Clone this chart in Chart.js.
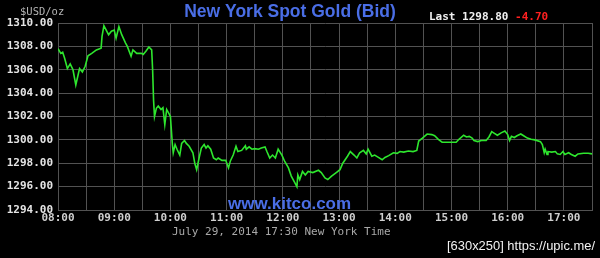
<!DOCTYPE html>
<html>
<head>
<meta charset="utf-8">
<script src="https://cdn.jsdelivr.net/npm/chart.js@4/dist/chart.umd.min.js"></script>
<style>
  html, body { margin: 0; padding: 0; background: #000; }
  #grafica { display: block; }
</style>
</head>
<body>
<canvas id="grafica" width="600" height="258"></canvas>
<script>
// Datos: hora (Nueva York) y precio bid.
const horas = [
  "08:00", "08:03", "08:05", "08:07", "08:10", "08:13", "08:16", "08:19", "08:21", "08:23",
  "08:26", "08:29", "08:32", "08:36", "08:41", "08:46", "08:47", "08:49", "08:52", "08:54",
  "08:57", "09:00", "09:02", "09:05", "09:08", "09:12", "09:14", "09:18", "09:20", "09:24",
  "09:29", "09:31", "09:34", "09:37", "09:40", "09:41", "09:42", "09:43", "09:45", "09:47",
  "09:50", "09:52", "09:54", "09:56", "09:59", "10:00", "10:02", "10:03", "10:05", "10:07",
  "10:10", "10:12", "10:15", "10:17", "10:20", "10:24", "10:26", "10:28", "10:31", "10:33",
  "10:36", "10:38", "10:40", "10:43", "10:46", "10:49", "10:51", "10:55", "10:59", "11:02",
  "11:04", "11:07", "11:10", "11:12", "11:16", "11:20", "11:21", "11:24", "11:27", "11:30",
  "11:34", "11:37", "11:41", "11:43", "11:46", "11:49", "11:52", "11:55", "11:59", "12:02",
  "12:06", "12:09", "12:12", "12:15", "12:16", "12:18", "12:21", "12:24", "12:27", "12:32",
  "12:38", "12:41", "12:45", "12:48", "12:52", "12:57", "13:01", "13:04", "13:09", "13:12",
  "13:16", "13:19", "13:22", "13:26", "13:29", "13:31", "13:35", "13:38", "13:42", "13:46",
  "13:49", "13:53", "13:58", "14:02", "14:05", "14:09", "14:14", "14:19", "14:23", "14:25",
  "14:29", "14:34", "14:39", "14:42", "14:46", "14:50", "14:55", "15:00", "15:05", "15:08",
  "15:13", "15:16", "15:19", "15:22", "15:24", "15:28", "15:32", "15:37", "15:40", "15:43",
  "15:45", "15:49", "15:53", "15:57", "16:00", "16:02", "16:04", "16:07", "16:10", "16:14",
  "16:17", "16:21", "16:25", "16:29", "16:35", "16:37", "16:39", "16:40", "16:42", "16:43",
  "16:47", "16:51", "16:53", "16:56", "16:59", "17:01", "17:05", "17:08", "17:12", "17:15",
  "17:21", "17:26", "17:30"
];

const precios = [
  1307.8, 1307.4, 1307.5, 1307.0, 1306.1, 1306.5, 1306.0, 1304.7, 1305.4, 1306.1,
  1305.8, 1306.3, 1307.2, 1307.4, 1307.7, 1307.85, 1308.85, 1309.77, 1309.3, 1309.0,
  1309.3, 1309.4, 1308.7, 1309.7, 1309.0, 1308.3, 1308.0, 1307.15, 1307.7, 1307.4,
  1307.4, 1307.3, 1307.6, 1307.95, 1307.7, 1306.0, 1303.4, 1302.0, 1302.7, 1302.9,
  1302.6, 1302.75, 1301.3, 1302.6, 1302.15, 1302.0, 1299.7, 1298.9, 1299.6, 1299.2,
  1298.7, 1299.7, 1299.95, 1299.7, 1299.45, 1298.9, 1298.0, 1297.45, 1298.6, 1299.3,
  1299.6, 1299.3, 1299.5, 1299.2, 1298.45, 1298.3, 1298.45, 1298.25, 1298.25, 1297.6,
  1298.2, 1298.7, 1299.45, 1299.0, 1299.1, 1299.5, 1299.2, 1299.4, 1299.2, 1299.25,
  1299.2, 1299.3, 1299.4, 1299.0, 1298.45, 1298.7, 1298.45, 1299.2, 1298.7, 1298.15,
  1297.6, 1296.9, 1296.45, 1296.0, 1297.0, 1296.6, 1297.3, 1297.0, 1297.3, 1297.2,
  1297.4, 1297.2, 1296.75, 1296.6, 1296.9, 1297.2, 1297.45, 1298.0, 1298.6, 1299.0,
  1298.7, 1298.45, 1298.9, 1299.1, 1298.8, 1299.2, 1298.6, 1298.7, 1298.5, 1298.3,
  1298.5, 1298.65, 1298.9, 1298.85, 1299.0, 1298.95, 1299.05, 1299.0, 1299.1, 1299.9,
  1300.15, 1300.5, 1300.45, 1300.35, 1300.05, 1299.8, 1299.8, 1299.8, 1299.8, 1300.05,
  1300.4, 1300.25, 1300.3, 1300.15, 1299.95, 1299.85, 1299.95, 1299.95, 1300.25, 1300.7,
  1300.6, 1300.4, 1300.6, 1300.75, 1300.45, 1299.95, 1300.3, 1300.2, 1300.35, 1300.5,
  1300.35, 1300.15, 1300.05, 1300.0, 1299.85, 1299.6, 1298.9, 1299.2, 1298.75, 1299.0,
  1298.95, 1299.0, 1298.8, 1298.75, 1299.0, 1298.75, 1298.9, 1298.75, 1298.6, 1298.8,
  1298.85, 1298.85, 1298.8
];

const etiquetasHora = ["08:00", "09:00", "10:00", "11:00", "12:00", "13:00", "14:00", "15:00", "16:00", "17:00"];
const sesionInicio = "08:00";
const sesionFin = "17:30";
const precioMin = 1294;
const precioMax = 1310;

const titulo = "New York Spot Gold (Bid)";
const unidad = "$USD/oz";
const ultimo = "Last 1298.80";
const cambio = "-4.70";
const fechaTexto = "July 29, 2014 17:30 New York Time";
const sitio = "www.kitco.com";
const marcaAgua = "[630x250] https://upic.me/";

function minutos(hhmm) {
  const [h, m] = hhmm.split(":").map(Number);
  return h * 60 + m;
}

const base = minutos(sesionInicio);
const puntos = horas.map((h, i) => ({ x: minutos(h) - base, y: precios[i] }));

const MONO = "'DejaVu Sans Mono', monospace";
const SANS = "'Liberation Sans', Arial, sans-serif";
const GRID = "#525252";

const textos = {
  id: "textos",
  beforeDraw(chart) {
    const { ctx } = chart;
    ctx.save();
    ctx.fillStyle = "#000";
    ctx.fillRect(0, 0, chart.width, chart.height);
    ctx.restore();
  },
  afterDraw(chart) {
    const { ctx } = chart;
    ctx.save();
    ctx.textBaseline = "alphabetic";

    ctx.font = `bold 17.5px ${SANS}`;
    ctx.fillStyle = "#4a6ee6";
    ctx.textAlign = "center";
    ctx.fillText(titulo, 290, 17);

    ctx.textAlign = "left";
    ctx.font = `10.5px ${MONO}`;
    ctx.fillStyle = "#b4b4b4";
    ctx.fillText(unidad, 20, 15);

    ctx.font = `bold 11px ${MONO}`;
    ctx.fillStyle = "#f0f0f0";
    ctx.fillText(ultimo, 429, 20);
    const w = ctx.measureText(ultimo + " ").width;
    ctx.fillStyle = "#ff2020";
    ctx.fillText(cambio, 429 + w, 20);

    ctx.font = `11px ${MONO}`;
    ctx.fillStyle = "#a8a8a8";
    ctx.fillText(fechaTexto, 172, 235);

    ctx.font = `bold 17px ${SANS}`;
    ctx.fillStyle = "#4a6ee6";
    ctx.fillText(sitio, 228, 209);

    ctx.font = `13px ${SANS}`;
    ctx.fillStyle = "#f2f2f2";
    ctx.fillText(marcaAgua, 447, 250, 148);
    ctx.restore();
  }
};

new Chart(document.getElementById("grafica"), {
  type: "line",
  data: {
    datasets: [{
      data: puntos,
      borderColor: "#2ee62e",
      borderWidth: 1.6,
      pointRadius: 0,
      tension: 0,
      fill: false
    }]
  },
  options: {
    responsive: false,
    animation: false,
    devicePixelRatio: 1,
    layout: { padding: { left: 0, right: 8, top: 23, bottom: 0 } },
    plugins: { legend: { display: false }, tooltip: { enabled: false } },
    scales: {
      x: {
        type: "linear",
        min: 0,
        max: minutos(sesionFin) - base,
        afterFit: scale => { scale.height = 48; },
        afterBuildTicks: scale => {
          scale.ticks = [];
          for (let v = 0; v <= minutos(sesionFin) - base; v += 30) scale.ticks.push({ value: v });
        },
        ticks: {
          autoSkip: false,
          maxRotation: 0,
          padding: 2,
          color: "#cfcfcf",
          font: { family: MONO, size: 11, weight: "bold" },
          callback: value => {
            const lbl = etiquetasHora.find(h => minutos(h) - base === value);
            return lbl || "";
          }
        },
        grid: { color: GRID, lineWidth: 1, drawTicks: false },
        border: { color: GRID }
      },
      y: {
        min: precioMin,
        max: precioMax,
        afterFit: scale => { scale.width = 58; },
        ticks: {
          stepSize: 2,
          padding: 5,
          color: "#e4e4e4",
          font: { family: MONO, size: 11, weight: "bold" },
          callback: value => value.toFixed(2)
        },
        grid: { color: GRID, lineWidth: 1, drawTicks: false },
        border: { color: GRID }
      }
    }
  },
  plugins: [textos]
});
</script>
</body>
</html>
